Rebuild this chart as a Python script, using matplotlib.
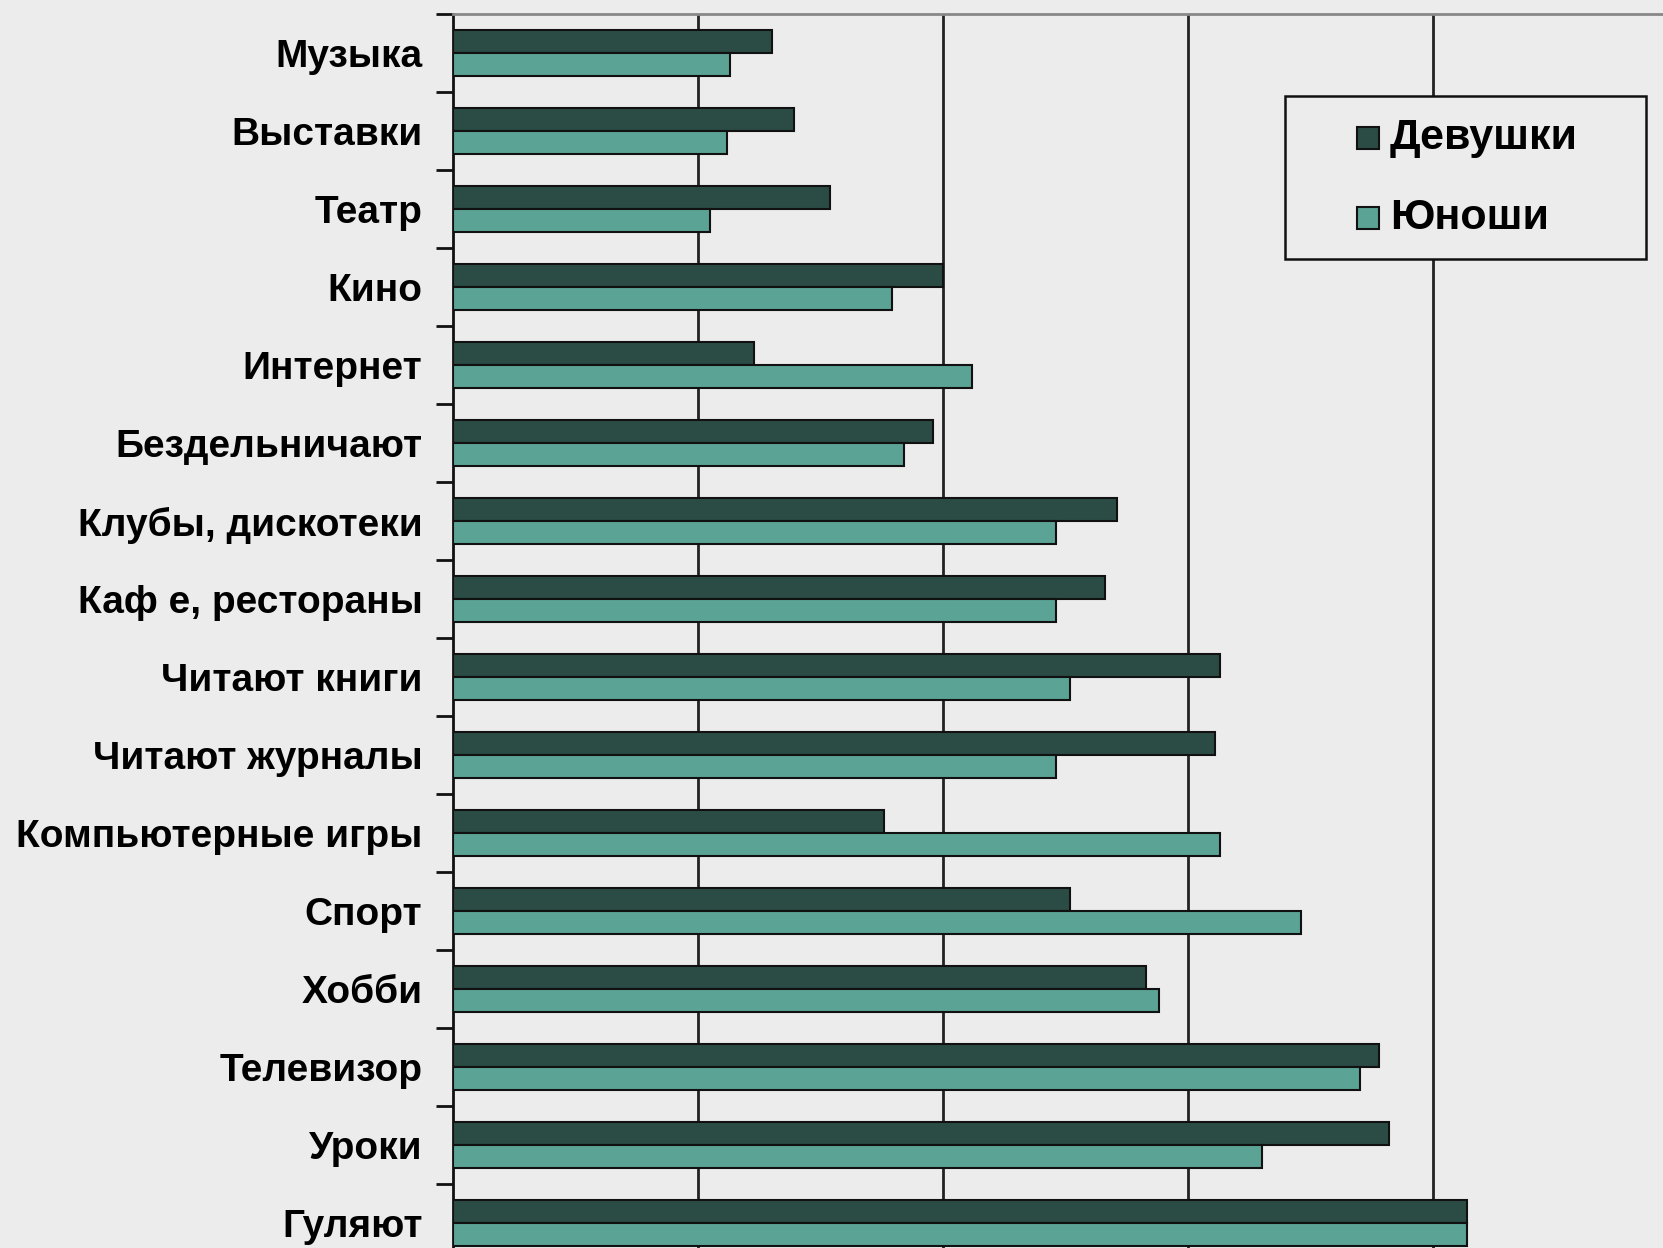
import numpy as np
import matplotlib.pyplot as plt
from matplotlib.patches import Rectangle

categories = ['Музыка', 'Выставки', 'Театр', 'Кино', 'Интернет', 'Бездельничают',
              'Клубы, дискотеки', 'Каф е, рестораны', 'Читают книги', 'Читают журналы',
              'Компьютерные игры', 'Спорт', 'Хобби', 'Телевизор', 'Уроки', 'Гуляют']
girls = [13.0, 13.9, 15.4, 20.0, 12.3, 19.6, 27.1, 26.6, 31.3, 31.1,
         17.6, 25.2, 28.3, 37.8, 38.2, 41.4]
boys = [11.3, 11.2, 10.5, 17.9, 21.2, 18.4, 24.6, 24.6, 25.2, 24.6,
        31.3, 34.6, 28.8, 37.0, 33.0, 41.4]
series = ['Девушки', 'Юноши']

bg = '#ECECEC'
dark = '#2B4C45'
light = '#5BA394'
font = ['Liberation Sans', 'DejaVu Sans']

W, H = 1663, 1248
fig = plt.figure(figsize=(W / 100, H / 100), dpi=100, facecolor=bg)
# axes overflows the picture on the right and bottom, like the cropped original
left, top = 453, 14
unit = 24.5   # px per value unit
step = 78     # px per category
ax = fig.add_axes([left / W, 1 - (top + step * len(categories)) / H,
                   unit * 50 / W, step * len(categories) / H])
ax.set_facecolor(bg)

y = np.arange(len(categories))
h = 0.3
ax.barh(y - h / 2, girls, height=h, color=dark, edgecolor='#111111', linewidth=1.5, zorder=3)
ax.barh(y + h / 2, boys, height=h, color=light, edgecolor='#111111', linewidth=1.5, zorder=3)

ax.set_xlim(0, 50)
ax.set_ylim(len(categories) - 0.5, -0.5)
ax.set_xticks([10, 20, 30, 40])
ax.xaxis.grid(True, color='#222222', linewidth=2)
ax.tick_params(axis='x', length=0, labelbottom=False)

ax.set_yticks(y)
ax.set_yticklabels(categories, fontsize=28, fontweight='bold', family=font)
ax.tick_params(axis='y', which='major', length=0, pad=22)
ax.set_yticks(np.arange(len(categories) + 1) - 0.5, minor=True)
ax.tick_params(axis='y', which='minor', length=12, width=2, color='#111111', direction='out')

for s in ['right', 'bottom']:
    ax.spines[s].set_visible(False)
ax.spines['left'].set_linewidth(2)
ax.spines['left'].set_color('#111111')
ax.spines['top'].set_linewidth(2)
ax.spines['top'].set_color('#888888')
ax.set_axisbelow(True)

# legend box drawn by hand (Excel style: wide left padding)
def fx(px):
    return px / W

def fy(py):
    return 1 - py / H

fig.patches.append(Rectangle((fx(1285), fy(259)), fx(1646) - fx(1285), (259 - 96) / H,
                             transform=fig.transFigure, facecolor=bg, edgecolor='#111111',
                             linewidth=1.8, zorder=5))
for name, col, yc in zip(series, [dark, light], [138, 218]):
    fig.patches.append(Rectangle((fx(1357), fy(yc + 11)), 22 / W, 22 / H,
                                 transform=fig.transFigure, facecolor=col,
                                 edgecolor='#111111', linewidth=1.5, zorder=6))
    fig.text(fx(1390), fy(yc), name, fontsize=31, fontweight='bold', family=font,
             ha='left', va='center', zorder=7)

fig.savefig('out.png', dpi=100, facecolor=bg)
